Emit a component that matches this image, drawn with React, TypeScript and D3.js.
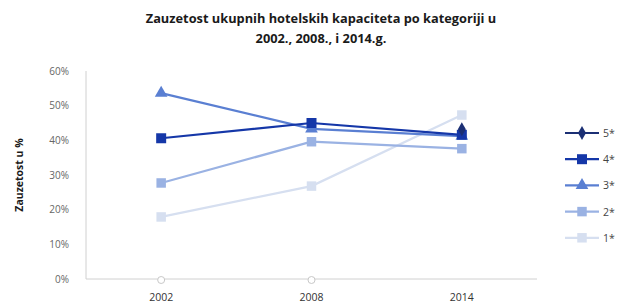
import React, { useRef, useEffect } from "react";
import * as d3 from "d3";

// data (percent)
const years = ["2002", "2008", "2014"];
const series = ["5*", "4*", "3*", "2*", "1*"];
const val5 = [0, 0, 43.2];
const val4 = [40.6, 45.0, 41.6];
const val3 = [53.6, 43.3, 41.2];
const val2 = [27.7, 39.6, 37.6];
const val1 = [17.9, 26.8, 47.3];
const yTicks = [0, 10, 20, 30, 40, 50, 60];

const colors = ["#1b2f74", "#1537a8", "#5a7fd2", "#9ab2e3", "#d6dff0"];
const shapes = [d3.symbolDiamond, d3.symbolSquare, d3.symbolTriangle, d3.symbolSquare, d3.symbolSquare];
const sizes = [55, 100, 70, 90, 90];

const App = () => {
  const svgRef = useRef<SVGSVGElement>(null);

  useEffect(() => {
    const svg = d3.select(svgRef.current);
    svg.selectAll("*").remove();

    const left = 86, right = 537, top = 71, bottom = 279;
    const x = d3.scaleBand().domain(years).range([left, right]);
    const cx = (d: string) => (x(d) as number) + x.bandwidth() / 2;
    const y = d3.scaleLinear().domain([0, 60]).range([bottom, top]);

    // title
    const title = svg.append("text")
      .attr("text-anchor", "middle")
      .attr("font-family", "'Open Sans', sans-serif")
      .attr("font-weight", "bold")
      .attr("font-size", 12.8)
      .attr("fill", "#1a1a1a");
    title.append("tspan").attr("x", 321).attr("y", 23).text("Zauzetost ukupnih  hotelskih kapaciteta po kategoriji u");
    title.append("tspan").attr("x", 321).attr("y", 43).text("2002., 2008., i 2014.g.");

    // axes lines
    svg.append("line").attr("x1", left).attr("x2", left).attr("y1", top).attr("y2", bottom)
      .attr("stroke", "#d0d0d0");
    svg.append("line").attr("x1", left).attr("x2", right).attr("y1", bottom).attr("y2", bottom)
      .attr("stroke", "#d0d0d0");

    svg.selectAll(".ytick").data(yTicks).enter().append("text")
      .attr("class", "ytick")
      .attr("x", 69)
      .attr("y", (d) => y(d) + 3.5)
      .attr("text-anchor", "end")
      .attr("font-family", "'Open Sans', sans-serif")
      .attr("font-size", 10)
      .attr("fill", "#666")
      .text((d) => d + "%");

    svg.selectAll(".xtick").data(years).enter().append("text")
      .attr("class", "xtick")
      .attr("x", (d) => cx(d))
      .attr("y", 301)
      .attr("text-anchor", "middle")
      .attr("font-family", "'Open Sans', sans-serif")
      .attr("font-size", 10.5)
      .attr("fill", "#333")
      .text((d) => d);

    svg.append("text")
      .attr("transform", "translate(23," + (top + bottom) / 2 + ") rotate(-90)")
      .attr("text-anchor", "middle")
      .attr("font-family", "'Open Sans', sans-serif")
      .attr("font-weight", "bold")
      .attr("font-size", 10.5)
      .attr("fill", "#1a1a1a")
      .text("Zauzetost u %");

    const allVals = [val5, val4, val3, val2, val1];
    const line = d3.line<[string, number]>().x((d) => cx(d[0])).y((d) => y(d[1]));

    // draw from 1* up so darker series sit on top
    for (let i = allVals.length - 1; i >= 0; i--) {
      const pts: [string, number][] = years.map((yr, j) => [yr, allVals[i][j]]);
      const shown = pts.filter((p) => p[1] > 0);
      if (shown.length > 1) {
        svg.append("path").attr("d", line(shown) as string)
          .attr("fill", "none").attr("stroke", colors[i]).attr("stroke-width", 2.2);
      }
      const sym = d3.symbol().type(shapes[i]).size(sizes[i]);
      svg.selectAll(".m" + i).data(shown).enter().append("path")
        .attr("class", "m" + i)
        .attr("d", sym() as string)
        .attr("transform", (d) => "translate(" + cx(d[0]) + "," + y(d[1]) + ")")
        .attr("fill", colors[i]);
      // empty values shown as faint hollow circles on the baseline
      svg.selectAll(".z" + i).data(pts.filter((p) => p[1] === 0)).enter().append("circle")
        .attr("class", "z" + i)
        .attr("cx", (d) => cx(d[0]))
        .attr("cy", bottom + 1)
        .attr("r", 3.5)
        .attr("fill", "white")
        .attr("stroke", "#c8c8c8");
    }

    // legend
    const lg = svg.selectAll(".lg").data(series).enter().append("g")
      .attr("class", "lg")
      .attr("transform", (d, i) => "translate(565," + (133 + i * 26.2) + ")");
    lg.append("line").attr("x1", 0).attr("x2", 34)
      .attr("stroke", (d, i) => colors[i]).attr("stroke-width", 2.2);
    lg.append("path")
      .attr("d", (d, i) => d3.symbol().type(shapes[i]).size(sizes[i])() as string)
      .attr("transform", "translate(17,0)")
      .attr("fill", (d, i) => colors[i]);
    lg.append("text")
      .attr("x", 38).attr("y", 4)
      .attr("font-family", "'Open Sans', sans-serif")
      .attr("font-size", 10.5)
      .attr("fill", "#444")
      .text((d) => d);
  }, []);

  return (
    <svg ref={svgRef} width={631} height={307}
      style={{ position: "absolute", left: 0, top: 0, background: "white" }} />
  );
};

export default App;
